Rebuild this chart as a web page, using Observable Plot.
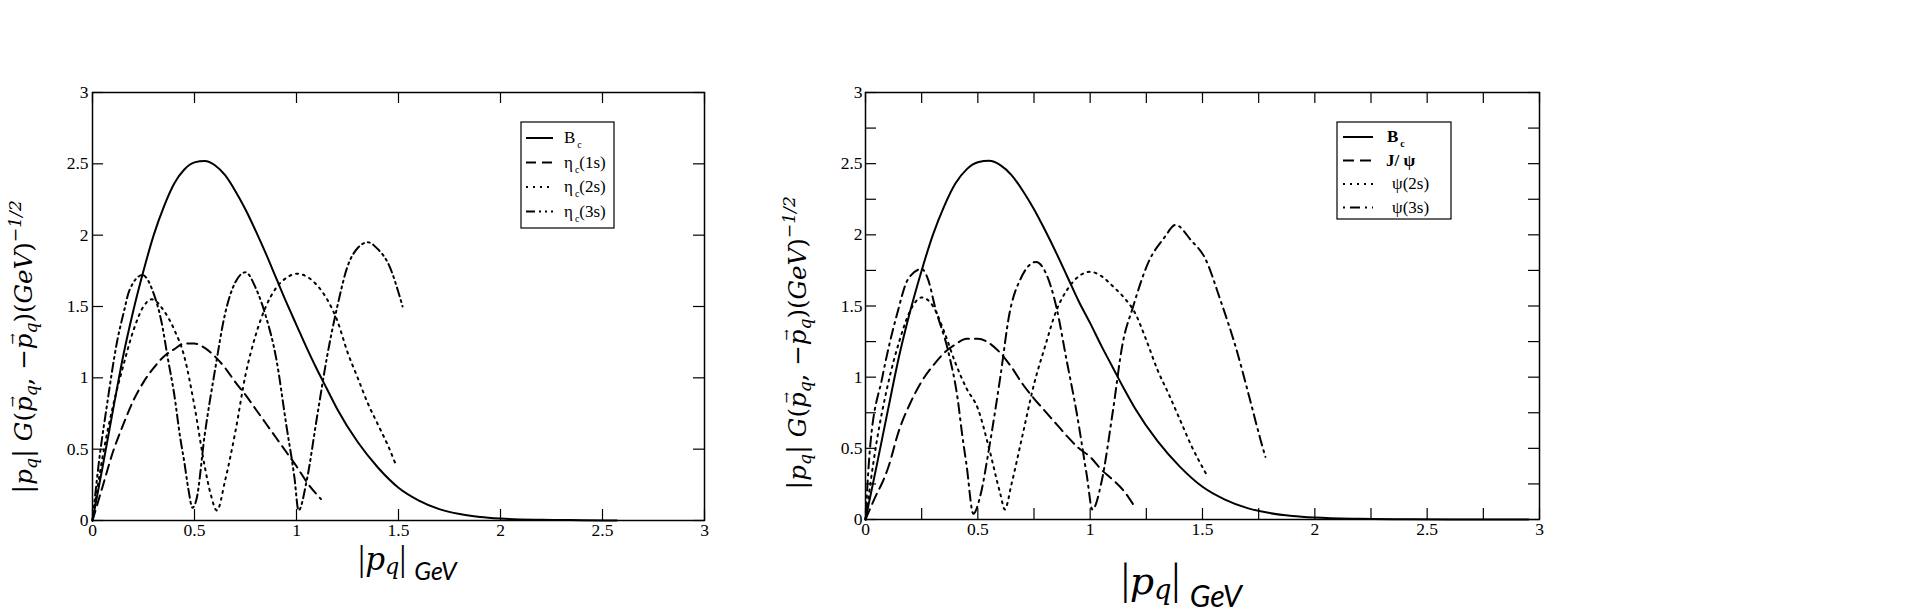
<!DOCTYPE html>
<html><head><meta charset="utf-8">
<script src="https://cdn.jsdelivr.net/npm/d3@7"></script>
<script src="https://cdn.jsdelivr.net/npm/@observablehq/plot@0.6"></script>
<style>
html,body{margin:0;padding:0;background:#fff;}
#wrap{position:relative;width:1914px;height:612px;overflow:hidden;background:#fff;}
.pnl{position:absolute;top:0;}
</style></head><body><div id="wrap"></div>
<script>
// ---------- data ----------
const majorTicks = [0, 0.5, 1, 1.5, 2, 2.5, 3];
const minorTicks = [0, 0.25, 0.5, 0.75, 1, 1.25, 1.5, 1.75, 2, 2.25, 2.5, 2.75, 3];
const tickLabels = ["0", "0.5", "1", "1.5", "2", "2.5", "3"];

const bcLeft = [[0,0],[0.05,0.38],[0.1,0.77],[0.15,1.15],[0.2,1.47],[0.25,1.75],[0.3,2.0],[0.35,2.2],[0.4,2.36],[0.45,2.46],[0.5,2.51],[0.55,2.52],[0.6,2.49],[0.65,2.42],[0.7,2.31],[0.75,2.18],[0.8,2.03],[0.85,1.87],[0.9,1.7],[0.95,1.53],[1.0,1.37],[1.05,1.21],[1.1,1.06],[1.15,0.92],[1.2,0.78],[1.3,0.55],[1.4,0.37],[1.5,0.23],[1.6,0.14],[1.7,0.08],[1.8,0.045],[1.9,0.025],[2.0,0.014],[2.2,0.005],[2.4,0.002],[2.57,0]];
const bcRight = [[0,0],[0.05,0.38],[0.1,0.77],[0.15,1.15],[0.2,1.47],[0.25,1.75],[0.3,2.0],[0.35,2.2],[0.4,2.36],[0.45,2.46],[0.5,2.51],[0.55,2.52],[0.6,2.49],[0.65,2.42],[0.7,2.31],[0.75,2.18],[0.8,2.03],[0.85,1.87],[0.9,1.7],[0.95,1.53],[1.0,1.38],[1.05,1.22],[1.1,1.07],[1.15,0.92],[1.2,0.78],[1.3,0.55],[1.4,0.37],[1.5,0.23],[1.6,0.14],[1.7,0.08],[1.8,0.045],[1.9,0.025],[2.0,0.014],[2.2,0.005],[2.4,0.002],[2.6,0],[2.95,0]];

const eta1s = [[0,0],[0.05,0.24],[0.1,0.48],[0.15,0.67],[0.2,0.84],[0.25,0.97],[0.3,1.07],[0.35,1.15],[0.4,1.2],[0.45,1.24],[0.5,1.24],[0.55,1.21],[0.6,1.15],[0.65,1.07],[0.7,0.97],[0.75,0.88],[0.8,0.78],[0.85,0.68],[0.9,0.58],[0.95,0.48],[1.0,0.38],[1.05,0.27],[1.12,0.15]];
const eta2s = [[0,0],[0.05,0.45],[0.1,0.8],[0.15,1.08],[0.2,1.33],[0.25,1.5],[0.29,1.55],[0.35,1.47],[0.4,1.34],[0.45,1.15],[0.5,0.8],[0.55,0.38],[0.58,0.18],[0.61,0.07],[0.65,0.28],[0.7,0.62],[0.75,1.02],[0.8,1.3],[0.85,1.5],[0.9,1.63],[0.95,1.7],[1.0,1.73],[1.05,1.71],[1.1,1.65],[1.15,1.55],[1.2,1.4],[1.25,1.18],[1.3,1.0],[1.35,0.82],[1.4,0.67],[1.45,0.52],[1.49,0.38]];
const eta3s = [[0,0],[0.035,0.45],[0.07,0.8],[0.12,1.25],[0.155,1.47],[0.18,1.61],[0.245,1.72],[0.3,1.59],[0.34,1.38],[0.37,1.13],[0.4,0.89],[0.43,0.58],[0.45,0.41],[0.47,0.22],[0.49,0.09],[0.51,0.15],[0.55,0.6],[0.6,1.05],[0.65,1.45],[0.7,1.67],[0.75,1.74],[0.8,1.63],[0.85,1.43],[0.9,1.14],[0.95,0.67],[0.99,0.3],[1.01,0.07],[1.05,0.28],[1.1,0.72],[1.15,1.15],[1.2,1.5],[1.25,1.78],[1.3,1.91],[1.35,1.95],[1.4,1.9],[1.45,1.8],[1.52,1.5]];

const jpsi = [[0,0],[0.05,0.18],[0.075,0.26],[0.1,0.36],[0.15,0.63],[0.2,0.82],[0.25,0.97],[0.3,1.08],[0.35,1.17],[0.4,1.23],[0.45,1.27],[0.5,1.27],[0.55,1.24],[0.6,1.17],[0.65,1.07],[0.7,0.95],[0.75,0.85],[0.8,0.76],[0.85,0.67],[0.9,0.58],[0.95,0.5],[1.0,0.44],[1.05,0.35],[1.1,0.28],[1.15,0.2],[1.19,0.11]];
const psi2s = [[0,0],[0.05,0.55],[0.1,0.95],[0.15,1.25],[0.2,1.47],[0.25,1.56],[0.3,1.5],[0.35,1.32],[0.4,1.1],[0.45,0.92],[0.5,0.78],[0.55,0.5],[0.6,0.18],[0.62,0.07],[0.65,0.25],[0.7,0.6],[0.75,0.95],[0.8,1.22],[0.85,1.47],[0.9,1.62],[0.95,1.71],[1.0,1.74],[1.05,1.71],[1.1,1.64],[1.15,1.56],[1.2,1.45],[1.25,1.26],[1.3,1.05],[1.35,0.88],[1.4,0.7],[1.45,0.52],[1.52,0.31]];
const psi3s = [[0,0],[0.02,0.5],[0.075,1.0],[0.14,1.44],[0.19,1.69],[0.25,1.76],[0.28,1.68],[0.31,1.49],[0.37,1.17],[0.41,0.85],[0.43,0.6],[0.45,0.38],[0.48,0.04],[0.51,0.16],[0.55,0.5],[0.6,1.0],[0.64,1.44],[0.69,1.69],[0.76,1.81],[0.8,1.74],[0.85,1.49],[0.895,1.12],[0.94,0.75],[0.985,0.31],[1.01,0.07],[1.05,0.26],[1.1,0.75],[1.145,1.24],[1.19,1.49],[1.26,1.81],[1.33,1.98],[1.38,2.07],[1.45,1.96],[1.51,1.84],[1.58,1.54],[1.65,1.2],[1.71,0.85],[1.76,0.55],[1.78,0.44]];

// legend labels: [main, subscript, rest, bold]
const leftLegend = [["B","c","",false],["η","c","(1s)",false],["η","c","(2s)",false],["η","c","(3s)",false]];
const rightLegend = [["B","c","",true],["J/ ψ","","",true],["ψ(2s)","","",false],["ψ(3s)","","",false]];

// ---------- drawing ----------
const SERIF = "'Liberation Serif', 'Times New Roman', serif";
const MATH = "'DejaVu Serif', serif";
const SANS = "Lato, 'Open Sans', sans-serif";
const wrap = document.getElementById("wrap");

function richText(sel, segs, baseSize) {
  let prev = 0, pendDx = 0;
  segs.forEach(s => {
    const t = sel.append("tspan").text(s.t);
    t.attr("font-style", s.italic ? "italic" : "normal");
    if (s.bold) t.attr("font-weight", "bold");
    if (s.size) t.attr("font-size", s.size);
    if (s.family) t.attr("font-family", s.family);
    const sh = s.shift || 0;
    if (sh !== prev) t.attr("dy", sh - prev);
    const dx = (s.dx || 0) + pendDx;
    if (dx) t.attr("dx", dx);
    pendDx = 0;
    prev = sh;
    if (s.arrow) {
      const fs = s.size || baseSize;
      const w = t.node().getComputedTextLength();
      const off = fs * 0.2;
      const a = sel.append("tspan").text("\u2192").attr("font-size", fs * 0.55).attr("font-style", "normal")
        .attr("dx", -w + off).attr("dy", -fs * 0.6);
      const aw = a.node().getComputedTextLength();
      pendDx = w - off - aw;
      prev = sh - fs * 0.6;
    }
  });
}

function panel(cfg) {
  const innerW = cfg.width - cfg.ml - cfg.mr, innerH = 612 - 92 - cfg.mb, TL = 11;
  const fmt = d => tickLabels[majorTicks.indexOf(d)];
  const tk = {stroke: "black", strokeWidth: 1.2};
  const chart = Plot.plot({
    width: cfg.width, height: 612,
    marginLeft: cfg.ml, marginRight: cfg.mr, marginTop: 92, marginBottom: cfg.mb,
    x: {domain: [0, 3]}, y: {domain: [0, 3]},
    style: {fontFamily: SERIF, fontSize: "17.5px", color: "black", background: "transparent", overflow: "visible"},
    marks: [
      ...cfg.series.map(s => Plot.line(s.data, {x: d => d[0], y: d => d[1], stroke: "black", strokeWidth: 2, strokeDasharray: s.dash, curve: "monotone-x"})),
      Plot.tickX(cfg.tickVals, {x: d => d, insetTop: innerH - TL, ...tk}),
      Plot.tickX(cfg.tickVals, {x: d => d, insetBottom: innerH - TL, ...tk}),
      Plot.tickY(cfg.tickVals, {y: d => d, insetRight: innerW - TL, ...tk}),
      Plot.tickY(cfg.tickVals, {y: d => d, insetLeft: innerW - TL, ...tk}),
      Plot.frame({stroke: "black", strokeWidth: 1.5}),
      Plot.axisX({anchor: "bottom", ticks: majorTicks, tickSize: 0, tickPadding: 3, tickFormat: fmt, label: null, fontSize: 17.5, fontFamily: SERIF}),
      Plot.axisY({anchor: "left", ticks: majorTicks, tickSize: 0, tickPadding: cfg.yPad, tickFormat: fmt, label: null, fontSize: 17.5, fontFamily: SERIF})
    ]
  });
  const div = document.createElement("div");
  div.className = "pnl";
  div.style.left = cfg.left + "px";
  div.appendChild(chart);
  wrap.appendChild(div);
  const svg = d3.select(chart.tagName.toLowerCase() === "svg" ? chart : chart.querySelector("svg"));
  svg.selectAll('g[aria-label$="tick label"]').attr("font-size", 17.5).attr("font-family", SERIF);

  // y label
  const Y = cfg.ylSize, ss = Y * 0.7, sub = Y * 0.22;
  const yl = svg.append("text")
    .attr("transform", `translate(${cfg.ylx - cfg.left},${cfg.yly}) rotate(-90)`)
    .attr("text-anchor", "middle").attr("font-family", MATH).attr("font-size", Y).attr("fill", "black");
  richText(yl, [
    {t: "|", size: Y * 1.1}, {t: "p", italic: true}, {t: "q", italic: true, size: ss, shift: sub}, {t: "|", size: Y * 1.1, shift: 0},
    {t: " G", italic: true}, {t: "("}, {t: "p", italic: true, arrow: true}, {t: "q", italic: true, size: ss, shift: sub},
    {t: ", \u2212", shift: 0}, {t: "p", italic: true, arrow: true}, {t: "q", italic: true, size: ss, shift: sub},
    {t: ")(", shift: 0}, {t: "GeV", italic: true}, {t: ")"}, {t: "\u22121/2", italic: true, size: ss, shift: -Y * 0.45}
  ], Y);

  // x label
  const f = cfg.xlSize;
  const xl = svg.append("text").attr("x", cfg.xlx - cfg.left).attr("y", cfg.xly).attr("text-anchor", "start")
    .attr("font-family", MATH).attr("font-size", f).attr("fill", "black");
  richText(xl, [
    {t: "|", size: f * 1.15, family: SERIF}, {t: "p", italic: true, size: f}, {t: "q", italic: true, size: f * 0.72, shift: f * 0.14},
    {t: "|", size: f * 1.15, family: SERIF, shift: 0},
    {t: "GeV", italic: true, size: f * 0.8, family: SANS, shift: f * 0.33, dx: f * 0.25}
  ], f);

  // legend
  const lg = cfg.legend;
  svg.append("rect").attr("x", lg.x - cfg.left).attr("y", lg.y).attr("width", lg.w).attr("height", lg.h)
    .attr("fill", "white").attr("stroke", "black").attr("stroke-width", 1.2);
  lg.labels.forEach((lab, i) => {
    const cy = lg.y0 + i * lg.dy;
    svg.append("line").attr("x1", lg.sx1 - cfg.left).attr("x2", lg.sx2 - cfg.left).attr("y1", cy).attr("y2", cy)
      .attr("stroke", "black").attr("stroke-width", 2).attr("stroke-dasharray", cfg.series[i].dash || null);
    const t = svg.append("text").attr("x", lg.tx[i] - cfg.left).attr("y", cy + 5).attr("text-anchor", "start")
      .attr("font-family", SERIF).attr("font-size", 17).attr("fill", "black");
    const segs = [{t: lab[0], bold: lab[3]}];
    if (lab[1]) segs.push({t: lab[1], size: 10, shift: 5, bold: lab[3], dx: 2});
    if (lab[2]) segs.push({t: lab[2], shift: 0});
    richText(t, segs, 17);
  });
}

panel({
  left: 0, width: 730, ml: 92, mr: 26, mb: 92, yPad: 4, tickVals: majorTicks,
  series: [{data: bcLeft, dash: null}, {data: eta1s, dash: "10,6"}, {data: eta2s, dash: "2,5"}, {data: eta3s, dash: "9,4,2,4,2,4"}],
  ylx: 32, yly: 347, ylSize: 24.5,
  xlx: 358, xly: 570, xlSize: 31,
  legend: {x: 521, y: 122, w: 93, h: 106, y0: 138, dy: 24.5, sx1: 526, sx2: 553, tx: [564, 564, 564, 564], labels: leftLegend}
});
panel({
  left: 760, width: 800, ml: 105, mr: 21, mb: 93, yPad: 3, tickVals: minorTicks,
  series: [{data: bcRight, dash: null}, {data: jpsi, dash: "11,6"}, {data: psi2s, dash: "2,5"}, {data: psi3s, dash: "2,5,10,5"}],
  ylx: 806, yly: 343, ylSize: 24.5,
  xlx: 1121, xly: 594, xlSize: 38,
  legend: {x: 1337, y: 122, w: 114, h: 97, y0: 137, dy: 23.5, sx1: 1343, sx2: 1373, tx: [1387, 1386, 1392, 1392], labels: rightLegend}
});
</script></body></html>
